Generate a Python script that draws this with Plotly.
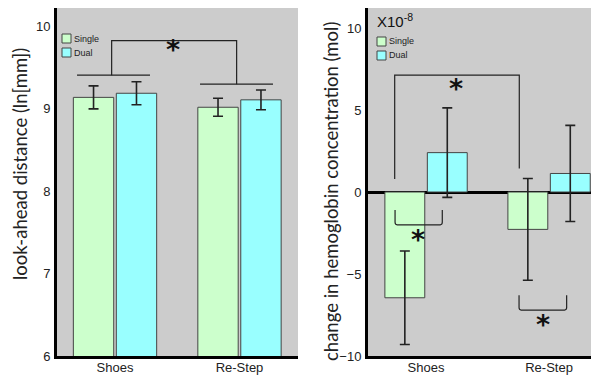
import plotly.graph_objects as go

categories = ["Shoes", "Re-Step"]
series_names = ["Single", "Dual"]

# Left panel: look-ahead distance (ln[mm])
look_single = [9.14, 9.02]
look_single_err = [0.14, 0.11]
look_dual = [9.19, 9.11]
look_dual_err = [0.14, 0.12]

# Right panel: change in hemoglobin concentration (x10^-8 mol)
hb_single = [-6.45, -2.28]
hb_single_err = [2.85, 3.10]
hb_dual = [2.40, 1.13]
hb_dual_err = [2.73, 2.93]

left_ticks = [6, 7, 8, 9, 10]
right_ticks = [-10, -5, 0, 5, 10]

colors = {"Single": "#ccffcc", "Dual": "#99ffff"}
xpos = [0, 1]

fig = go.Figure()

def add_bars(vals_s, err_s, vals_d, err_d, xa, ya):
    for name, vals, err in [("Single", vals_s, err_s), ("Dual", vals_d, err_d)]:
        fig.add_trace(go.Bar(
            x=xpos, y=vals, name=name, showlegend=False,
            xaxis=xa, yaxis=ya,
            marker=dict(color=colors[name], line=dict(color="#444444", width=1)),
            error_y=dict(type="data", array=err, visible=True,
                         color="#222222", thickness=1.6, width=5),
        ))

add_bars(look_single, look_single_err, look_dual, look_dual_err, "x", "y")
add_bars(hb_single, hb_single_err, hb_dual, hb_dual_err, "x2", "y2")

# page body has an 8px margin, so the figure is drawn 8px smaller
OFF = 8
W, H = 599 - OFF, 376 - OFF
L = 57 - OFF          # left edge of plot area (reference px 57)
PW = W - L            # 542
BOT = 356             # reference px of plot bottom
PH = (BOT - OFF)      # plot area from page y=8 to y=356

def px(xr):
    return (xr - 57) / PW

def py(yr):
    return (BOT - yr) / PH

tickfont = dict(family="Liberation Sans, Arial", size=13, color="#222222")
titlefont = dict(family="Lato, Open Sans", size=18.5, color="#222222")

fig.update_layout(
    width=W, height=H,
    margin=dict(l=L, r=0, t=0, b=H - PH, autoexpand=False),
    paper_bgcolor="white", plot_bgcolor="#cccccc",
    barmode="group", bargap=0.31, bargroupgap=0.06,
    showlegend=False,
    xaxis=dict(domain=[0, 241 / PW], range=[-0.466, 1.47],
               tickvals=xpos, ticktext=categories, tickfont=tickfont,
               showgrid=False, zeroline=False, showline=True, automargin=False,
               linecolor="black", linewidth=3, ticks="", ticklabelstandoff=-3),
    xaxis2=dict(domain=[311 / PW, 1], range=[-0.472, 1.406],
                tickvals=xpos, ticktext=categories, tickfont=tickfont,
                showgrid=False, zeroline=False, showline=True, automargin=False,
                linecolor="black", linewidth=3, ticks="", anchor="y2",
                ticklabelstandoff=-3),
    yaxis=dict(range=[6, 10.225], tickvals=left_ticks, tickfont=tickfont,
               showgrid=False, zeroline=False, showline=True, automargin=False,
               linecolor="black", linewidth=3, ticks="", ticklabelstandoff=1),
    yaxis2=dict(range=[-10, 11.22], tickvals=right_ticks, tickfont=tickfont,
                showgrid=False, zeroline=True, zerolinecolor="black",
                zerolinewidth=3, showline=True, anchor="x2", automargin=False,
                linecolor="black", linewidth=3, ticks="", ticklabelstandoff=1),
)

# Axis titles as rotated annotations
fig.add_annotation(x=px(20), y=py(164), xref="paper", yref="paper",
                   text="look-ahead distance (ln[mm])", textangle=-90, showarrow=False,
                   xanchor="center", yanchor="middle", font=titlefont)
fig.add_annotation(x=px(331), y=py(192), xref="paper", yref="paper",
                   text="change in hemoglobin concentration (mol)", textangle=-90,
                   showarrow=False, xanchor="center", yanchor="middle", font=titlefont)

line = dict(color="#222222", width=1.2)
star = dict(family="DejaVu Sans", size=27, color="#111111", weight="bold")

# Left significance bracket
for x0, x1, y0 in [(-0.305, 0.281, 9.41), (0.683, 1.269, 9.30)]:
    fig.add_shape(type="line", x0=x0, x1=x1, y0=y0, y1=y0, xref="x", yref="y", line=line)
fig.add_shape(type="path", xref="x", yref="y", line=line,
              path="M -0.027,9.41 L -0.027,9.83 L 0.977,9.83 L 0.977,9.30")
fig.add_annotation(x=0.466, y=9.72, xref="x", yref="y", text="*", showarrow=False, font=star)

# Right significance brackets
fig.add_shape(type="path", xref="x2", yref="y2", line=line,
              path="M -0.255,0.79 L -0.255,7.13 L 0.758,7.13 L 0.758,1.44")
fig.add_annotation(x=0.241, y=6.3, xref="x2", yref="y2", text="*", showarrow=False, font=star)
fig.add_shape(type="path", xref="x2", yref="y2", line=line,
              path="M -0.252,-1.09 L -0.252,-1.85 Q -0.252,-2.0 -0.235,-2.0 "
                   "L 0.115,-2.0 Q 0.132,-2.0 0.132,-1.85 L 0.132,-1.09")
fig.add_annotation(x=-0.065, y=-2.9, xref="x2", yref="y2", text="*", showarrow=False, font=star)
fig.add_shape(type="path", xref="x2", yref="y2", line=line,
              path="M 0.756,-6.3 L 0.756,-7.05 Q 0.756,-7.2 0.773,-7.2 "
                   "L 1.126,-7.2 Q 1.143,-7.2 1.143,-7.05 L 1.143,-6.3")
fig.add_annotation(x=0.951, y=-8.1, xref="x2", yref="y2", text="*", showarrow=False, font=star)

# X10^-8 label
fig.add_annotation(x=px(375), y=py(21), xref="paper", yref="paper",
                   text="X10<sup>-8</sup>", showarrow=False, xanchor="left", yanchor="middle",
                   font=dict(family="Liberation Sans, Arial", size=15, color="#111111"))

# Manual legends
def legend(lx, ly):
    for i, name in enumerate(series_names):
        top = ly + i * 14
        fig.add_shape(type="rect", xref="paper", yref="paper",
                      x0=px(lx), x1=px(lx + 9), y0=py(top), y1=py(top + 9),
                      fillcolor=colors[name], line=dict(color="#444444", width=1))
        fig.add_annotation(x=px(lx + 10), y=py(top + 4.5),
                           xref="paper", yref="paper", text=name, showarrow=False,
                           xanchor="left", yanchor="middle",
                           font=dict(family="Liberation Sans, Arial", size=9, color="#222222"))

legend(62, 34)
legend(377, 37)

fig.write_html("out.html")
